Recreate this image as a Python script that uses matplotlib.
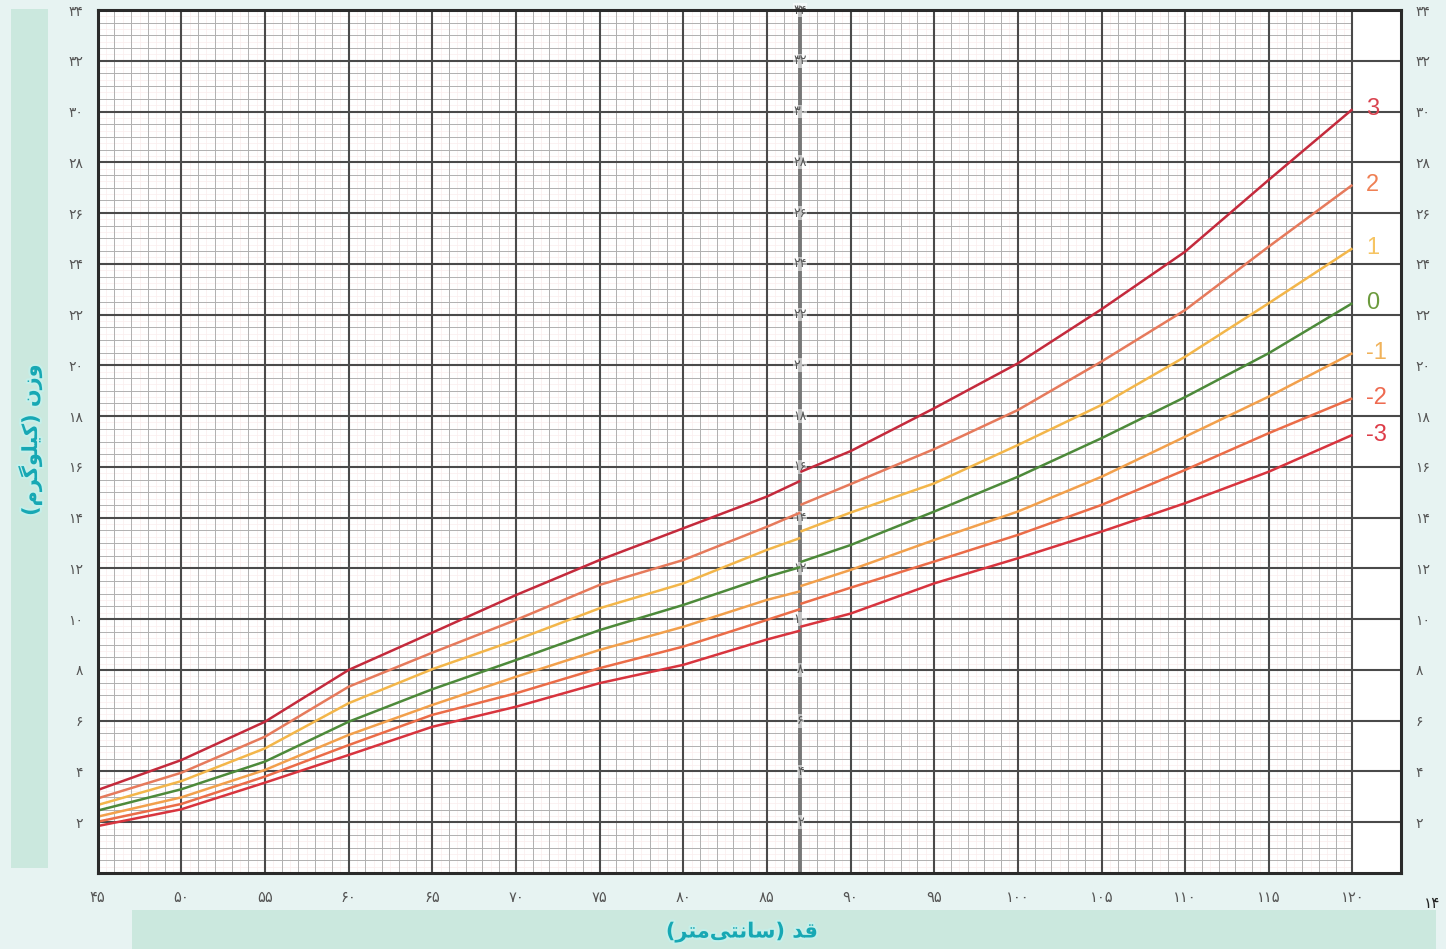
import matplotlib
matplotlib.use('Agg')
import matplotlib.pyplot as plt
from matplotlib.patches import Rectangle
from matplotlib import font_manager
from matplotlib.ft2font import FT2Font
import matplotlib.patheffects as pe

# ---------------- data ----------------
lengths_L = [45, 50, 55, 60, 65, 70, 75, 80, 85, 87]          # recumbent length segment
heights_H = [87, 90, 95, 100, 105, 110, 115, 120]             # standing height segment

sd_p3_L = [3.27, 4.45, 5.96, 8.00, 9.47, 10.95, 12.33, 13.58, 14.83, 15.45]
sd_p2_L = [2.94, 3.95, 5.37, 7.34, 8.68, 9.97, 11.35, 12.33, 13.64, 14.20]
sd_p1_L = [2.68, 3.62, 4.91, 6.69, 8.03, 9.18, 10.43, 11.41, 12.73, 13.20]
sd_0_L  = [2.46, 3.30, 4.39, 5.96, 7.24, 8.39, 9.57, 10.56, 11.67, 12.05]
sd_m1_L = [2.22, 2.98, 4.06, 5.44, 6.62, 7.73, 8.79, 9.70, 10.76, 11.10]
sd_m2_L = [2.02, 2.72, 3.80, 5.04, 6.23, 7.08, 8.07, 8.92, 9.97, 10.40]
sd_m3_L = [1.85, 2.51, 3.56, 4.65, 5.76, 6.55, 7.48, 8.20, 9.20, 9.55]

sd_p3_H = [15.80, 16.62, 18.31, 20.08, 22.21, 24.48, 27.31, 30.09]
sd_p2_H = [14.50, 15.32, 16.70, 18.24, 20.15, 22.18, 24.68, 27.11]
sd_p1_H = [13.45, 14.20, 15.35, 16.86, 18.44, 20.34, 22.45, 24.61]
sd_0_H  = [12.25, 12.92, 14.24, 15.61, 17.13, 18.75, 20.48, 22.45]
sd_m1_H = [11.30, 11.94, 13.12, 14.24, 15.61, 17.19, 18.77, 20.48]
sd_m2_H = [10.60, 11.24, 12.27, 13.32, 14.50, 15.88, 17.33, 18.70]
sd_m3_H = [9.70, 10.22, 11.41, 12.40, 13.45, 14.57, 15.81, 17.26]

curve_names = ['3', '2', '1', '0', '-1', '-2', '-3']
x_ticks = list(range(45, 121, 5))
y_ticks = list(range(2, 35, 2))

# ---------------- styling ----------------
W, H = 1446, 949
line_colors = ['#c42a3c', '#e67a5c', '#f3b64a', '#4d8a3a', '#f2a04c', '#eb6c48', '#d8343e']
label_colors = ['#d9434f', '#ef8054', '#f6c462', '#6c9b3e', '#f0b25a', '#ee6a50', '#dd3c48']

fa_tr = str.maketrans('0123456789', '۰۱۲۳۴۵۶۷۸۹')
def fa(n):
    return str(n).translate(fa_tr)

# check glyph availability for Persian gaf initial form
dv_path = font_manager.findfont('DejaVu Sans')
ftf = FT2Font(dv_path)
gaf_init = '\uFB94' if ftf.get_char_index(0xFB94) != 0 else '\uFEDB'

# visual (LTR) order strings using Arabic presentation forms
x_title = '(' + '\uFEAE\uFE98\uFEE3\uFEF0\uFE98\uFEE7\uFE8E\uFEB3' + ') ' + '\uFEAA\uFED7'
y_title = '(' + '\uFEE1\uFEAE' + gaf_init + '\uFEEE\uFEE0\uFEF4\uFEDB' + ') ' + '\uFEE5\uFEAF\uFEED'

plt.rcParams['font.family'] = ['DejaVu Sans']

fig = plt.figure(figsize=(W / 100, H / 100), dpi=100)
fig.patch.set_facecolor('#e7f3f2')

# side / bottom teal bands
fig.add_artist(Rectangle((11 / W, (H - 868) / H), 37 / W, (868 - 9) / H,
                         transform=fig.transFigure, facecolor='#cbe8de', edgecolor='none', zorder=0))
fig.add_artist(Rectangle((132 / W, 0), (1436 - 132) / W, (H - 910) / H,
                         transform=fig.transFigure, facecolor='#cbe8de', edgecolor='none', zorder=0))

x0, x1 = 97.7, 1401
y0, y1 = 873, 10
ax = fig.add_axes([x0 / W, (H - y0) / H, (x1 - x0) / W, (y0 - y1) / H])
ax.set_facecolor('white')
xmax = 45 + (x1 - x0) / 16.73
ax.set_xlim(45, xmax)
ax.set_ylim(0, 34)

# grid: very faint pink finest, gray minor, dark major
for i in range(45 * 2, 120 * 2):
    if i % 2 == 1:
        ax.vlines(i / 2, 0, 34, color='#faeded', lw=0.5, zorder=0.5)
for i in range(0, 34 * 4):
    if i % 2 == 1:
        ax.hlines(i / 4, 45, 120, color='#faeded', lw=0.5, zorder=0.5)
for v in range(46, 120):
    if v % 5:
        ax.vlines(v, 0, 34, color='#b0b0b0', lw=0.7, zorder=0.6)
for i in range(1, 34 * 2):
    if i % 4:
        ax.hlines(i / 2, 45, 120, color='#b0b0b0', lw=0.7, zorder=0.6)
for v in x_ticks:
    ax.vlines(v, 0, 34, color='#4a4a4a', lw=1.5, zorder=0.8)
for v in y_ticks:
    ax.hlines(v, 45, xmax, color='#4a4a4a', lw=1.5, zorder=0.8)
ax.vlines(87, 0, 34, color='#777777', lw=2.8, zorder=0.9)

# curves
L_series = [sd_p3_L, sd_p2_L, sd_p1_L, sd_0_L, sd_m1_L, sd_m2_L, sd_m3_L]
H_series = [sd_p3_H, sd_p2_H, sd_p1_H, sd_0_H, sd_m1_H, sd_m2_H, sd_m3_H]
for ys_l, ys_h, c in zip(L_series, H_series, line_colors):
    ax.plot(lengths_L, ys_l, color=c, lw=1.8, zorder=3, solid_capstyle='butt', solid_joinstyle='round')
    ax.plot(heights_H, ys_h, color=c, lw=1.8, zorder=3, solid_capstyle='butt', solid_joinstyle='round')

# curve labels at the right
for name, ys_h, c in zip(curve_names, H_series, label_colors):
    ax.text(120.8, ys_h[-1], name, color=c, fontsize=17, ha='left', va='center',
            family=['Liberation Sans', 'DejaVu Sans'], zorder=4)

# labels along the 87 cm line
for v in y_ticks:
    ax.text(87, v, fa(v), color='#555555', fontsize=9, ha='center', va='center', zorder=2,
            bbox=dict(facecolor='white', edgecolor='none', alpha=0.55, pad=0.3))

for s in ax.spines.values():
    s.set_color('#2a2a2a')
    s.set_linewidth(2.2)
    s.set_zorder(5)

ax.set_xticks(x_ticks)
ax.set_xticklabels([fa(v) for v in x_ticks])
ax.set_yticks(y_ticks)
ax.set_yticklabels([fa(v) for v in y_ticks])
ax.tick_params(axis='y', length=0, labelleft=True, labelright=True, pad=10.5,
               labelsize=10, labelcolor='#555555')
ax.tick_params(axis='x', length=0, pad=12, labelsize=10.5, labelcolor='#555555')
ax.grid(False)

# axis titles
glow = [pe.withStroke(linewidth=3, foreground='#c5efe9')]
fig.text(742 / W, (H - 932) / H, x_title, color='#17a8b4', fontsize=15, fontweight='bold',
         ha='center', va='center', path_effects=glow)
fig.text(30 / W, (H - 440) / H, y_title, color='#17a8b4', fontsize=15, fontweight='bold',
         ha='center', va='center', rotation=90, path_effects=glow)

# page number
fig.text(1432 / W, (H - 903) / H, fa(14), color='#222222', fontsize=11, ha='center', va='center')

fig.savefig('out.png', dpi=100, facecolor=fig.get_facecolor())
